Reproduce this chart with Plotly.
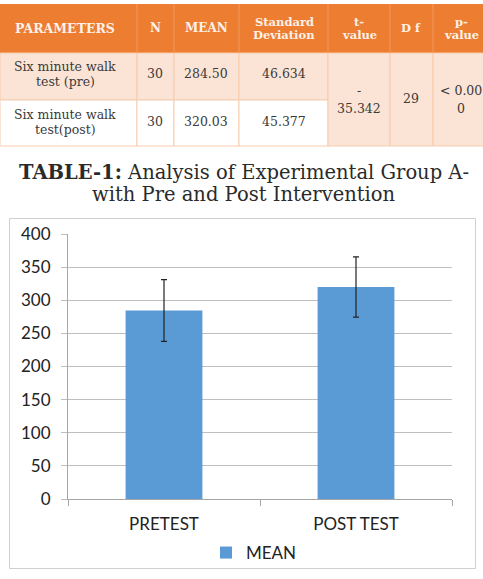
import plotly.graph_objects as go

# ---------------- data ----------------
categories = ["PRETEST", "POST TEST"]
mean_values = [284.50, 320.03]
sd_values = [46.634, 45.377]
series_name = "MEAN"

table_headers = [["PARAMETERS"], ["N"], ["MEAN"], ["Standard", "Deviation"],
                 ["t-", "value"], ["D f"], ["p-", "value"]]
row_params = [["Six minute walk", "test (pre)"], ["Six minute walk", "test(post)"]]
row_n = ["30", "30"]
row_mean = ["284.50", "320.03"]
row_sd = ["46.634", "45.377"]
t_value = ["-", "35.342"]
df_value = ["29"]
p_value = ["< 0.00", "0"]
caption_bold = "TABLE-1:"
caption_rest = " Analysis of Experimental Group A-"
caption_line2 = "with Pre and Post Intervention"

# ---------------- layout helpers ----------------
W, H = 483, 579
def px(x): return x / W
def py(y): return 1 - y / H

col_edges = [0, 137, 174, 239, 328, 390, 433, 490]
row_edges = [4, 53, 100, 146]
ORANGE = "#EC7D31"
PEACH = "#FBE4D5"
BORDER = "#F7CBAD"
SERIF = "DejaVu Serif"
TXT = "#3a3a3a"

shapes = []
annotations = []

def rect(x0, y0, x1, y1, fill, line=None, lw=1):
    shapes.append(dict(type="rect", xref="paper", yref="paper",
                       x0=px(x0), x1=px(x1), y0=py(y1), y1=py(y0),
                       fillcolor=fill, line=dict(color=line or fill, width=lw if line else 0),
                       layer="below"))

def lines_text(lines, xc, yc, size, color, bold=False, lh=14):
    n = len(lines)
    for i, t in enumerate(lines):
        y = yc + (i - (n - 1) / 2) * lh
        annotations.append(dict(xref="paper", yref="paper", x=px(xc), y=py(y),
                                text=f"<b>{t}</b>" if bold else t, showarrow=False,
                                xanchor="center", yanchor="middle",
                                font=dict(family=SERIF, size=size, color=color)))

# header row
rect(col_edges[0], row_edges[0], col_edges[-1], row_edges[1], ORANGE)
for c in range(1, len(col_edges) - 1):
    shapes.append(dict(type="line", xref="paper", yref="paper",
                       x0=px(col_edges[c]), x1=px(col_edges[c]),
                       y0=py(row_edges[1]), y1=py(row_edges[0]),
                       line=dict(color="#F19A5E", width=1)))
hdr_x = [65, 155, 206, 284, 359, 411, 461]
hdr_size = [12.5, 12, 12, 11.5, 11.5, 11.5, 11.5]
for c, h in enumerate(table_headers):
    lines_text(h, hdr_x[c], 28.5, hdr_size[c], "#FDF1E8", bold=True)

# body rows
for r in range(2):
    y0, y1 = row_edges[r + 1], row_edges[r + 2]
    for c in range(4):
        fill = PEACH if r == 0 else "white"
        rect(col_edges[c], y0, col_edges[c + 1], y1, fill, BORDER, 1)
for c in range(4, 7):
    rect(col_edges[c], row_edges[1], col_edges[c + 1], row_edges[3], PEACH, BORDER, 1)

row_y = [74, 121.5]
for r in range(2):
    lines_text(row_params[r], hdr_x[0], row_y[r], 12.5, TXT, lh=15)
    lines_text([row_n[r]], hdr_x[1], row_y[r], 12.5, TXT)
    lines_text([row_mean[r]], hdr_x[2], row_y[r], 12.5, TXT)
    lines_text([row_sd[r]], hdr_x[3], row_y[r], 12.5, TXT)
lines_text(t_value, hdr_x[4], 99, 12.5, TXT, lh=18)
lines_text(df_value, hdr_x[5], 99, 12.5, TXT)
lines_text(p_value, hdr_x[6], 99.5, 12.5, TXT, lh=17)

# caption
annotations.append(dict(xref="paper", yref="paper", x=px(244), y=py(172),
                        text=f"<b>{caption_bold}</b>{caption_rest}", showarrow=False,
                        xanchor="center", yanchor="middle",
                        font=dict(family=SERIF, size=19.5, color="#2a2a2a")))
annotations.append(dict(xref="paper", yref="paper", x=px(244), y=py(195),
                        text=caption_line2, showarrow=False,
                        xanchor="center", yanchor="middle",
                        font=dict(family=SERIF, size=19.5, color="#2a2a2a")))

# chart frame
shapes.append(dict(type="rect", xref="paper", yref="paper",
                   x0=px(9.5), x1=px(475.5), y0=py(568.5), y1=py(218.5),
                   line=dict(color="#D0D0D0", width=1), fillcolor="rgba(0,0,0,0)", layer="below"))

fig = go.Figure()
fig.add_trace(go.Bar(
    x=categories, y=mean_values, name=series_name, width=0.4,
    marker=dict(color="#5B9BD5", line=dict(width=0)),
    error_y=dict(type="data", array=sd_values, visible=True,
                 color="#222222", thickness=1.2, width=3),
))

fig.update_layout(
    template="none",
    width=W, height=H, margin=dict(l=0, r=0, t=0, b=0, pad=0, autoexpand=False),
    paper_bgcolor="white", plot_bgcolor="white",
    shapes=shapes, annotations=annotations,
    showlegend=True,
    legend=dict(orientation="h", x=px(254), y=py(553), xanchor="center", yanchor="middle",
                font=dict(family="Lato", size=17, color="#222222"),
                itemwidth=30, bgcolor="rgba(0,0,0,0)"),
    xaxis=dict(domain=[px(68), px(452)], range=[-0.5, 1.5], showgrid=False,
               automargin=False,
               showline=True, linecolor="#A6A6A6", linewidth=1,
               ticks="outside", tickcolor="#A6A6A6", ticklen=6,
               tickson="boundaries", ticklabelstandoff=10,
               tickfont=dict(family="Lato", size=17, color="#222222")),
    yaxis=dict(domain=[py(499), py(234)], range=[0, 400], dtick=50,
               automargin=False,
               showgrid=True, gridcolor="#BFBFBF", gridwidth=1,
               showline=True, linecolor="#A6A6A6", linewidth=1,
               ticks="outside", tickcolor="#BFBFBF", ticklen=6,
               zeroline=False, ticklabelstandoff=7,
               tickfont=dict(family="Lato", size=17, color="#222222")),
)

fig.write_html("out.html")
